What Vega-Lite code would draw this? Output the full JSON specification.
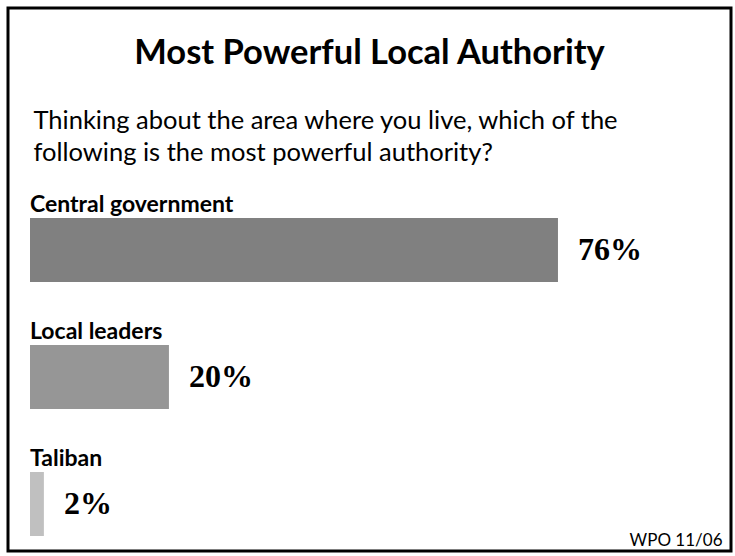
{
  "$schema": "https://vega.github.io/schema/vega-lite/v6.json",
  "width": 723,
  "height": 543,
  "autosize": {"type": "none"},
  "padding": {"left": 8, "top": 8, "right": 4, "bottom": 5},
  "background": "white",
  "config": {"view": {"stroke": "black", "strokeWidth": 3}, "font": "Lato"},
  "title": {
    "text": "Most Powerful Local Authority",
    "anchor": "middle",
    "frame": "group",
    "font": "Lato",
    "fontSize": 34.5,
    "fontWeight": "bold",
    "color": "black",
    "offset": -63
  },
  "data": {
    "values": [
      {"authority": "Central government", "share": 0.76},
      {"authority": "Local leaders", "share": 0.20},
      {"authority": "Taliban", "share": 0.02}
    ]
  },
  "encoding": {
    "y": {
      "field": "authority",
      "type": "nominal",
      "sort": null,
      "scale": {"range": [210, 528], "paddingInner": 0.496, "paddingOuter": 0},
      "axis": null
    }
  },
  "layer": [
    {
      "mark": {"type": "bar"},
      "encoding": {
        "x": {
          "field": "share",
          "type": "quantitative",
          "scale": {"domain": [0, 1], "range": [22, 716.7]},
          "axis": {
            "orient": "top",
            "domain": false,
            "ticks": false,
            "labels": false,
            "grid": false,
            "title": ["Thinking about the area where you live, which of the", "following is the most powerful authority?"],
            "titleX": 25,
            "titleY": 120,
            "titleAlign": "left",
            "titleBaseline": "alphabetic",
            "titleAngle": 0,
            "titleFont": "Lato",
            "titleFontSize": 25.5,
            "titleFontWeight": "normal",
            "titleLineHeight": 32,
            "titleColor": "black"
          }
        },
        "color": {
          "field": "authority",
          "type": "nominal",
          "scale": {"domain": ["Central government", "Local leaders", "Taliban"], "range": ["#808080", "#969696", "#c0c0c0"]},
          "legend": null
        }
      }
    },
    {
      "mark": {"type": "text", "align": "left", "baseline": "alphabetic", "dy": -6, "font": "Lato", "fontSize": 23, "fontWeight": "bold", "color": "black"},
      "encoding": {
        "x": {"datum": 0, "type": "quantitative", "axis": null},
        "y": {"field": "authority", "type": "nominal", "sort": null, "bandPosition": 0},
        "text": {"field": "authority"}
      }
    },
    {
      "mark": {"type": "text", "align": "left", "baseline": "middle", "dx": 20, "font": "Liberation Serif", "fontSize": 32, "fontWeight": "bold", "color": "black"},
      "encoding": {
        "x": {
          "field": "share",
          "type": "quantitative",
          "axis": {
            "orient": "bottom",
            "domain": false,
            "ticks": false,
            "labels": false,
            "grid": false,
            "title": "WPO 11/06",
            "titleX": 714,
            "titleY": -6,
            "titleAlign": "right",
            "titleBaseline": "alphabetic",
            "titleFont": "Lato",
            "titleFontSize": 17,
            "titleFontWeight": "normal",
            "titleColor": "black"
          }
        },
        "text": {"field": "share", "format": ".0%"}
      }
    }
  ]
}
